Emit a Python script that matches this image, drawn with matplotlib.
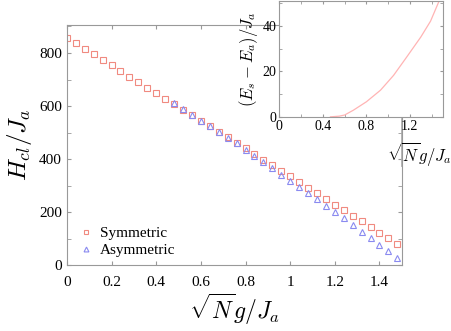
import matplotlib
matplotlib.use('Agg')
import matplotlib.pyplot as plt
from matplotlib.ticker import MultipleLocator
from matplotlib.lines import Line2D

# main panel data
g_sym = [0.0, 0.04, 0.08, 0.12, 0.16, 0.2, 0.24, 0.28, 0.32, 0.36, 0.4, 0.44,
         0.48, 0.52, 0.56, 0.6, 0.64, 0.68, 0.72, 0.76, 0.8, 0.84, 0.88, 0.92,
         0.96, 1.0, 1.04, 1.08, 1.12, 1.16, 1.2, 1.24, 1.28, 1.32, 1.36, 1.4,
         1.44, 1.48]
h_sym = [858, 837, 815, 795, 774, 753, 732, 711, 691, 669, 649, 628,
         608, 586, 565, 545, 523, 502, 482, 461, 440, 419, 398, 376,
         356, 337, 313, 292, 271, 249, 228, 208, 186, 165, 143, 122,
         101, 79]
g_asym = [0.48, 0.52, 0.56, 0.6, 0.64, 0.68, 0.72, 0.76, 0.8, 0.84, 0.88, 0.92,
          0.96, 1.0, 1.04, 1.08, 1.12, 1.16, 1.2, 1.24, 1.28, 1.32, 1.36, 1.4,
          1.44, 1.48]
h_asym = [610, 587, 566, 545, 523, 502, 481, 459, 436, 413, 390, 366,
          341, 318, 296, 271, 248, 224, 200, 176, 150, 126, 102, 77,
          53, 28]

# inset data
g_diff = [0.47, 0.55, 0.6, 0.68, 0.8, 0.93, 1.05, 1.17, 1.3, 1.39, 1.47]
e_diff = [0, 0.3, 0.8, 2.9, 6.6, 11.7, 18.2, 26.2, 35, 42, 51]

plt.rcParams['font.family'] = ['Liberation Serif', 'DejaVu Serif']
plt.rcParams['mathtext.fontset'] = 'cm'

spine_col = '#999999'

fig = plt.figure(figsize=(4.52, 3.31), dpi=100)
ax = fig.add_axes([0.148, 0.199, 0.741, 0.725])

ax.plot(g_sym, h_sym, linestyle='none', marker='s', markersize=4.3,
        markerfacecolor='none', markeredgecolor='#f08a80', markeredgewidth=0.8,
        label='Symmetric')
ax.plot(g_asym, h_asym, linestyle='none', marker='^', markersize=5,
        markerfacecolor='none', markeredgecolor='#8a8af0', markeredgewidth=0.8,
        label='Asymmetric')

ax.set_xlim(0, 1.5)
ax.set_ylim(0, 905)
ax.yaxis.set_major_locator(MultipleLocator(200))
ax.yaxis.set_minor_locator(MultipleLocator(100))
ax.set_xticks([0, 0.2, 0.4, 0.6, 0.8, 1.0, 1.2, 1.4])
ax.set_xticklabels(['0', '0.2', '0.4', '0.6', '0.8', '1', '1.2', '1.4'])
ax.tick_params(which='both', direction='in', top=True, right=True,
               color=spine_col, labelsize=11, length=3)
ax.tick_params(axis='x', pad=8)
for s in ax.spines.values():
    s.set_color(spine_col)
    s.set_linewidth(0.8)

ax.set_xlabel(r'$\sqrt{N}g/J_a$', fontsize=17, labelpad=2)
ax.set_ylabel(r'$H_{cl}/J_a$', fontsize=18, labelpad=4)

ax.legend(loc='lower left', bbox_to_anchor=(-0.01, -0.025), frameon=False,
          fontsize=11, handletextpad=0.3, handlelength=1.2, labelspacing=0.25,
          markerscale=0.7)

# inset
ins = fig.add_axes([0.618, 0.647, 0.361, 0.351])
ins.plot(g_diff, e_diff, color='#ffb4b4', linewidth=0.9)
ins.set_xlim(0, 1.5)
ins.set_ylim(0, 51)
ins.set_xticks([0, 0.4, 0.8, 1.2])
ins.set_xticklabels(['0', '0.4', '0.8', '1.2'])
ins.xaxis.set_minor_locator(MultipleLocator(0.2))
ins.yaxis.set_major_locator(MultipleLocator(20))
ins.yaxis.set_minor_locator(MultipleLocator(10))
ins.tick_params(which='both', direction='in', top=True, right=True,
                color=spine_col, labelsize=10, length=2.5, pad=2)
for s in ins.spines.values():
    s.set_color(spine_col)
    s.set_linewidth(0.8)
ins.set_xlabel(r'$\sqrt{N}g/J_a$', fontsize=12, labelpad=0)
ins.xaxis.set_label_coords(0.86, -0.2)
ins.set_ylabel(r'$(E_s - E_a)/J_a$', fontsize=12, labelpad=2)

fig.add_artist(Line2D([0.888, 0.888], [0.5, 0.645], transform=fig.transFigure,
                      color='#aaaaaa', linewidth=0.6))

fig.savefig('out.png', dpi=100)
